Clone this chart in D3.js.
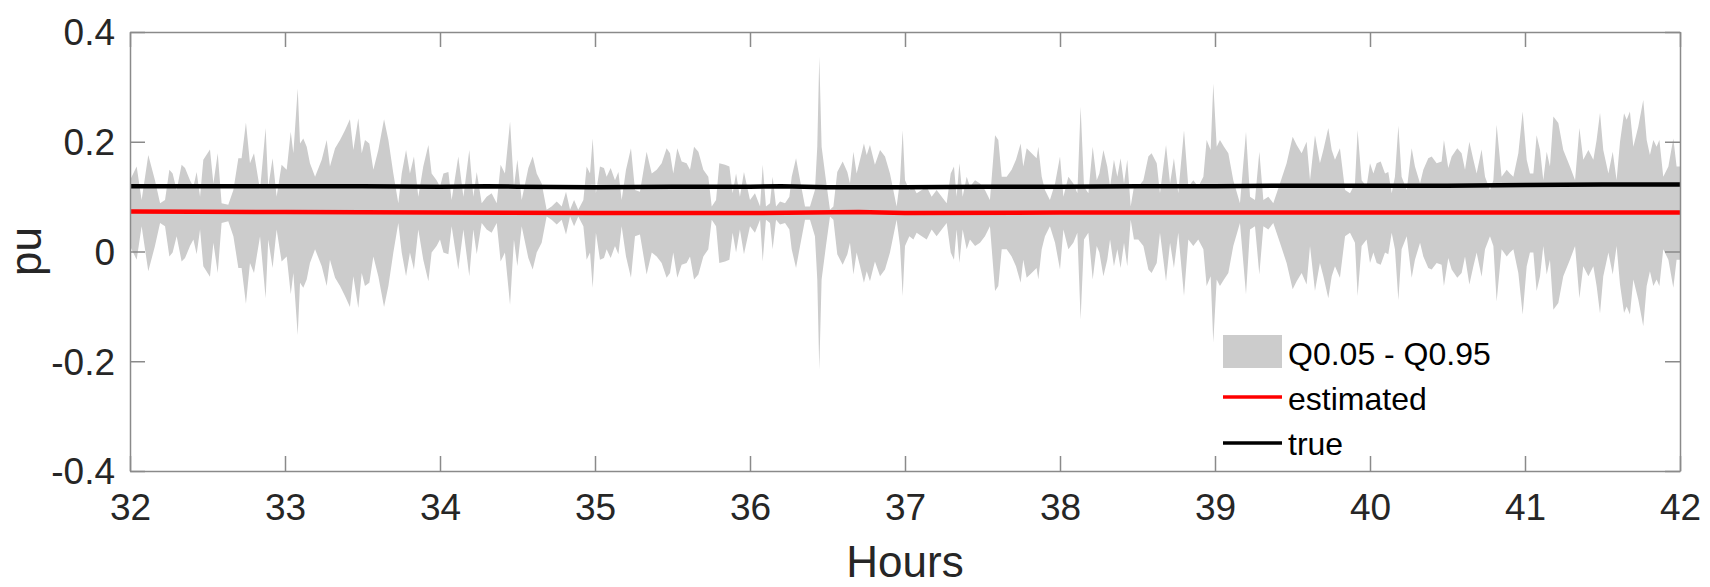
<!DOCTYPE html>
<html>
<head>
<meta charset="utf-8">
<script src="https://cdn.jsdelivr.net/npm/d3@7"></script>
<style>
  html, body { margin: 0; padding: 0; background: #ffffff; }
  svg { display: block; }
  text { font-family: "Liberation Sans", Arial, Helvetica, sans-serif; }
</style>
</head>
<body>
<svg id="chart" width="1710" height="587"></svg>
<script>
// ---------------- DATA ----------------
const xTicks = [32, 33, 34, 35, 36, 37, 38, 39, 40, 41, 42];
const yTicks = [-0.4, -0.2, 0, 0.2, 0.4];
const yTickLabels = ["-0.4", "-0.2", "0", "0.2", "0.4"];
const legendLabels = ["Q0.05 - Q0.95", "estimated", "true"];
const xLabel = "Hours";
const yLabel = "pu";

// Quantile band (Q0.05 lower, Q0.95 upper)
const bandHours = [
32.000,32.043,32.075,32.118,32.161,32.194,32.226,32.254,32.275,32.301,32.333,32.355,32.387,32.409,32.430,32.452,32.473,32.516,32.538,32.566,32.591,32.634,32.667,32.699,32.720,32.748,32.774,32.800,32.839,32.875,32.892,32.920,32.946,32.978,33.011,33.037,33.054,33.082,33.097,33.118,33.140,33.161,33.194,33.237,33.269,33.290,33.323,33.355,33.387,33.419,33.441,33.473,33.495,33.516,33.544,33.570,33.602,33.639,33.667,33.699,33.731,33.753,33.781,33.806,33.832,33.860,33.892,33.925,33.946,33.978,
34.000,34.022,34.054,34.075,34.118,34.151,34.189,34.215,34.237,34.269,34.301,34.333,34.366,34.391,34.419,34.452,34.477,34.499,34.527,34.570,34.598,34.624,34.656,34.688,34.720,34.753,34.785,34.813,34.839,34.865,34.892,34.925,34.946,34.968,34.985,35.006,35.032,35.058,35.075,35.101,35.129,35.151,35.172,35.200,35.232,35.258,35.290,35.333,35.366,35.398,35.430,35.462,35.484,35.505,35.531,35.559,35.591,35.613,35.639,35.667,35.699,35.731,35.753,35.781,35.802,35.839,35.867,35.888,35.910,35.935,35.961,
36.000,36.032,36.065,36.082,36.103,36.129,36.146,36.168,36.194,36.226,36.254,36.269,36.297,36.323,36.355,36.387,36.419,36.434,36.447,36.462,36.490,36.516,36.538,36.563,36.598,36.628,36.645,36.667,36.688,36.710,36.735,36.753,36.774,36.806,36.839,36.871,36.903,36.946,36.968,36.985,37.000,37.028,37.054,37.075,37.108,37.140,37.172,37.204,37.237,37.269,37.295,37.316,37.333,37.351,37.372,37.398,37.419,37.452,37.484,37.516,37.548,37.581,37.602,37.624,37.656,37.688,37.716,37.746,37.763,37.785,37.817,37.849,37.860,37.882,37.903,37.935,37.968,
38.000,38.022,38.054,38.086,38.112,38.133,38.155,38.183,38.211,38.237,38.254,38.280,38.305,38.323,38.348,38.370,38.391,38.413,38.434,38.456,38.477,38.505,38.538,38.570,38.591,38.624,38.645,38.684,38.710,38.735,38.763,38.800,38.828,38.860,38.892,38.925,38.946,38.972,38.989,39.011,39.032,39.058,39.086,39.118,39.161,39.200,39.226,39.258,39.286,39.312,39.344,39.376,39.419,39.462,39.501,39.527,39.559,39.591,39.613,39.645,39.677,39.699,39.731,39.753,39.774,39.806,39.839,39.871,39.903,39.920,39.946,39.978,
40.000,40.022,40.043,40.069,40.097,40.118,40.140,40.161,40.183,40.204,40.237,40.269,40.290,40.323,40.344,40.376,40.398,40.430,40.462,40.477,40.505,40.527,40.563,40.591,40.613,40.641,40.667,40.688,40.720,40.742,40.774,40.796,40.817,40.849,40.882,40.903,40.925,40.957,40.985,41.011,41.032,41.054,41.075,41.097,41.118,41.140,41.161,41.183,41.215,41.247,41.290,41.323,41.351,41.376,41.409,41.441,41.462,41.484,41.505,41.538,41.566,41.591,41.613,41.639,41.656,41.677,41.699,41.731,41.763,41.785,41.806,41.828,41.849,41.867,41.892,41.925,41.957,41.978,42.000
];
const bandUpper = [
0.130,0.155,0.094,0.176,0.130,0.088,0.094,0.149,0.142,0.112,0.158,0.152,0.130,0.118,0.145,0.100,0.167,0.186,0.124,0.179,0.088,0.085,0.112,0.170,0.170,0.235,0.161,0.179,0.112,0.225,0.118,0.170,0.100,0.158,0.149,0.218,0.179,0.297,0.197,0.206,0.191,0.161,0.136,0.167,0.203,0.155,0.188,0.203,0.221,0.241,0.185,0.243,0.179,0.203,0.197,0.149,0.185,0.241,0.203,0.142,0.088,0.142,0.185,0.142,0.173,0.100,0.155,0.194,0.142,0.130,
0.118,0.142,0.145,0.094,0.173,0.100,0.185,0.100,0.145,0.088,0.100,0.106,0.088,0.158,0.142,0.237,0.118,0.167,0.094,0.152,0.173,0.142,0.124,0.076,0.082,0.091,0.082,0.109,0.076,0.094,0.076,0.094,0.155,0.142,0.206,0.106,0.155,0.152,0.136,0.152,0.130,0.145,0.094,0.149,0.188,0.112,0.109,0.182,0.142,0.149,0.161,0.188,0.179,0.142,0.188,0.164,0.161,0.149,0.191,0.182,0.149,0.136,0.082,0.094,0.161,0.158,0.155,0.106,0.142,0.100,0.145,
0.094,0.106,0.082,0.158,0.082,0.088,0.136,0.082,0.091,0.088,0.100,0.136,0.170,0.130,0.082,0.082,0.112,0.191,0.355,0.191,0.130,0.076,0.082,0.145,0.164,0.145,0.124,0.182,0.142,0.167,0.197,0.176,0.194,0.158,0.185,0.173,0.142,0.082,0.130,0.221,0.130,0.112,0.118,0.106,0.112,0.118,0.100,0.112,0.100,0.088,0.142,0.155,0.100,0.161,0.100,0.136,0.118,0.130,0.124,0.112,0.094,0.212,0.203,0.136,0.136,0.149,0.167,0.197,0.155,0.188,0.179,0.170,0.191,0.136,0.112,0.094,0.124,
0.173,0.100,0.136,0.124,0.106,0.264,0.118,0.106,0.191,0.130,0.142,0.185,0.155,0.118,0.167,0.136,0.170,0.124,0.167,0.082,0.118,0.118,0.130,0.173,0.179,0.161,0.106,0.194,0.124,0.170,0.106,0.221,0.118,0.130,0.118,0.136,0.203,0.185,0.306,0.191,0.203,0.191,0.179,0.130,0.088,0.218,0.100,0.094,0.182,0.094,0.100,0.088,0.124,0.161,0.209,0.194,0.179,0.200,0.130,0.212,0.161,0.185,0.225,0.185,0.167,0.188,0.112,0.106,0.124,0.221,0.130,0.118,
0.161,0.142,0.161,0.164,0.142,0.145,0.106,0.136,0.229,0.136,0.112,0.188,0.155,0.124,0.149,0.170,0.173,0.161,0.164,0.203,0.152,0.173,0.188,0.179,0.149,0.200,0.167,0.142,0.186,0.136,0.112,0.130,0.231,0.136,0.149,0.142,0.136,0.179,0.255,0.167,0.142,0.142,0.212,0.185,0.130,0.182,0.155,0.246,0.234,0.185,0.155,0.130,0.225,0.167,0.185,0.167,0.203,0.253,0.185,0.142,0.182,0.130,0.200,0.252,0.240,0.255,0.191,0.228,0.276,0.203,0.176,0.203,0.191,0.203,0.136,0.155,0.206,0.155,0.155
];
const bandLower = [
0.010,-0.015,0.046,-0.036,0.010,0.052,0.046,-0.009,-0.002,0.028,-0.018,-0.012,0.010,0.022,-0.005,0.040,-0.027,-0.046,0.016,-0.039,0.052,0.055,0.028,-0.030,-0.030,-0.095,-0.021,-0.039,0.028,-0.085,0.022,-0.030,0.040,-0.018,-0.009,-0.078,-0.039,-0.152,-0.057,-0.066,-0.051,-0.021,0.004,-0.027,-0.063,-0.015,-0.048,-0.063,-0.081,-0.101,-0.045,-0.103,-0.039,-0.063,-0.057,-0.009,-0.045,-0.101,-0.063,-0.002,0.052,-0.002,-0.045,-0.002,-0.033,0.040,-0.015,-0.054,-0.002,0.010,
0.022,-0.002,-0.005,0.046,-0.033,0.040,-0.045,0.040,-0.005,0.052,0.040,0.034,0.052,-0.018,-0.002,-0.097,0.022,-0.027,0.046,-0.012,-0.033,-0.002,0.016,0.064,0.058,0.049,0.058,0.031,0.064,0.046,0.064,0.046,-0.015,-0.002,-0.066,0.034,-0.015,-0.012,0.004,-0.012,0.010,-0.005,0.046,-0.009,-0.048,0.028,0.031,-0.042,-0.002,-0.009,-0.021,-0.048,-0.039,-0.002,-0.048,-0.024,-0.021,-0.009,-0.051,-0.042,-0.009,0.004,0.058,0.046,-0.021,-0.018,-0.015,0.034,-0.002,0.040,-0.005,
0.046,0.034,0.058,-0.018,0.058,0.052,0.004,0.058,0.049,0.052,0.040,0.004,-0.030,0.010,0.058,0.058,0.028,-0.051,-0.215,-0.051,0.010,0.064,0.058,-0.005,-0.024,-0.005,0.016,-0.042,-0.002,-0.027,-0.057,-0.036,-0.054,-0.018,-0.045,-0.033,-0.002,0.058,0.010,-0.081,0.010,0.028,0.022,0.034,0.028,0.022,0.040,0.028,0.040,0.052,-0.002,-0.015,0.040,-0.021,0.040,0.004,0.022,0.010,0.016,0.028,0.046,-0.072,-0.063,0.004,0.004,-0.009,-0.027,-0.057,-0.015,-0.048,-0.039,-0.030,-0.051,0.004,0.028,0.046,0.016,
-0.033,0.040,0.004,0.016,0.034,-0.124,0.022,0.034,-0.051,0.010,-0.002,-0.045,-0.015,0.022,-0.027,0.004,-0.030,0.016,-0.027,0.058,0.022,0.022,0.010,-0.033,-0.039,-0.021,0.034,-0.054,0.016,-0.030,0.034,-0.081,0.022,0.010,0.022,0.004,-0.063,-0.045,-0.166,-0.051,-0.063,-0.051,-0.039,0.010,0.052,-0.078,0.040,0.046,-0.042,0.046,0.040,0.052,0.016,-0.021,-0.069,-0.054,-0.039,-0.060,0.010,-0.072,-0.021,-0.045,-0.085,-0.045,-0.027,-0.048,0.028,0.034,0.016,-0.081,0.010,0.022,
-0.021,-0.002,-0.021,-0.024,-0.002,-0.005,0.034,0.004,-0.089,0.004,0.028,-0.048,-0.015,0.016,-0.009,-0.030,-0.033,-0.021,-0.024,-0.063,-0.012,-0.033,-0.048,-0.039,-0.009,-0.060,-0.027,-0.002,-0.046,0.004,0.028,0.010,-0.091,0.004,-0.009,-0.002,0.004,-0.039,-0.115,-0.027,-0.002,-0.002,-0.072,-0.045,0.010,-0.042,-0.015,-0.106,-0.094,-0.045,-0.015,0.010,-0.085,-0.027,-0.045,-0.027,-0.063,-0.113,-0.045,-0.002,-0.042,0.010,-0.060,-0.112,-0.100,-0.115,-0.051,-0.088,-0.136,-0.063,-0.036,-0.063,-0.051,-0.063,0.004,-0.015,-0.066,-0.015,-0.015
];

// "true" and "estimated" series
const trueHours   = [32, 32.5, 33, 33.5, 34, 34.3, 34.5, 35, 35.5, 36, 36.2, 36.5, 37, 37.5, 38, 38.5, 39, 39.5, 40, 40.5, 41, 41.5, 42];
const trueValues  = [0.119, 0.119, 0.119, 0.119, 0.118, 0.119, 0.118, 0.117, 0.118, 0.118, 0.119, 0.117, 0.117, 0.118, 0.118, 0.119, 0.119, 0.120, 0.120, 0.120, 0.121, 0.122, 0.122];
const estHours    = [32, 33, 34, 35, 36, 36.7, 37, 38, 39, 40, 41, 42];
const estValues   = [0.073, 0.072, 0.071, 0.070, 0.070, 0.072, 0.070, 0.071, 0.071, 0.071, 0.071, 0.071];

// ---------------- DRAW ----------------
const svg = d3.select("#chart");
const L = 130, R = 1680, T = 32, B = 471;
const x = d3.scaleLinear().domain([32, 42]).range([L, R]);
const y = d3.scaleLinear().domain([-0.4, 0.4]).range([B, T]);

svg.append("defs").append("clipPath").attr("id", "clip")
  .append("rect").attr("x", L).attr("y", T).attr("width", R - L).attr("height", B - T);

const plot = svg.append("g").attr("clip-path", "url(#clip)");

const band = bandHours.map((h, i) => ({h, u: bandUpper[i], l: bandLower[i]}));
plot.append("path").datum(band)
  .attr("fill", "#cccccc")
  .attr("d", d3.area().x(d => x(d.h)).y0(d => y(d.l)).y1(d => y(d.u)));

const line = d3.line().x(d => x(d[0])).y(d => y(d[1]));
plot.append("path").datum(estHours.map((h, i) => [h, estValues[i]]))
  .attr("fill", "none").attr("stroke", "#ff0000").attr("stroke-width", 4.5).attr("d", line);
plot.append("path").datum(trueHours.map((h, i) => [h, trueValues[i]]))
  .attr("fill", "none").attr("stroke", "#000000").attr("stroke-width", 4.5).attr("d", line);

// axes (box with inward ticks)
const axisColor = "#8a8a8a";
const tickLen = 15;
const axFont = 37;
const textColor = "#262626";

const gx = svg.append("g").attr("transform", `translate(0,${B})`)
  .call(d3.axisBottom(x).tickValues(xTicks).tickFormat(d3.format("d")).tickSizeInner(-tickLen).tickSizeOuter(0));
const gxTop = svg.append("g").attr("transform", `translate(0,${T})`)
  .call(d3.axisTop(x).tickValues(xTicks).tickFormat("").tickSizeInner(-tickLen).tickSizeOuter(0));
const gy = svg.append("g").attr("transform", `translate(${L},0)`)
  .call(d3.axisLeft(y).tickValues(yTicks).tickFormat((d, i) => yTickLabels[i]).tickSizeInner(-tickLen).tickSizeOuter(0));
const gyRight = svg.append("g").attr("transform", `translate(${R},0)`)
  .call(d3.axisRight(y).tickValues(yTicks).tickFormat("").tickSizeInner(-tickLen).tickSizeOuter(0));

[gx, gxTop, gy, gyRight].forEach(g => {
  g.select(".domain").attr("stroke", axisColor).attr("stroke-width", 1.5);
  g.selectAll(".tick line").attr("stroke", axisColor).attr("stroke-width", 1.5);
  g.selectAll(".tick text").attr("fill", textColor).attr("font-size", axFont)
    .attr("font-family", "'Liberation Sans', Arial, sans-serif");
});
gx.selectAll(".tick text").attr("dy", null).attr("y", 49);
gy.selectAll(".tick text").attr("dy", "0.35em").attr("x", -15);

// axis labels
svg.append("text").attr("x", (L + R) / 2).attr("y", 577)
  .attr("text-anchor", "middle").attr("font-size", 44).attr("fill", textColor).text(xLabel);
svg.append("text").attr("transform", `translate(41,${(T + B) / 2}) rotate(-90)`)
  .attr("text-anchor", "middle").attr("font-size", 44).attr("fill", textColor).text(yLabel);

// legend
const lg = svg.append("g");
const lx0 = 1223, lx1 = 1282, tx = 1288;
lg.append("rect").attr("x", lx0).attr("y", 335).attr("width", lx1 - lx0).attr("height", 33).attr("fill", "#cccccc");
lg.append("line").attr("x1", lx0).attr("x2", lx1).attr("y1", 397).attr("y2", 397).attr("stroke", "#ff0000").attr("stroke-width", 3.5);
lg.append("line").attr("x1", lx0).attr("x2", lx1).attr("y1", 443).attr("y2", 443).attr("stroke", "#000000").attr("stroke-width", 3.5);
const legBase = [365, 410, 455];
legendLabels.forEach((t, i) => {
  lg.append("text").attr("x", tx).attr("y", legBase[i]).attr("font-size", 32).attr("fill", "#000").text(t);
});
</script>
</body>
</html>
